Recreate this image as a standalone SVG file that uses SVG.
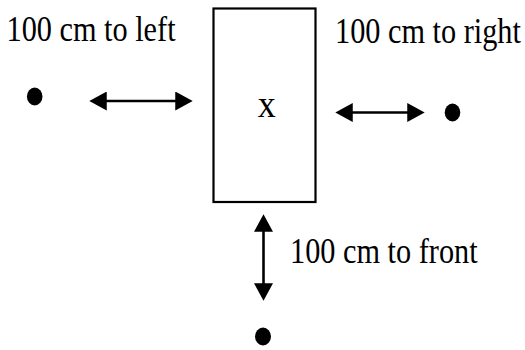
<svg xmlns="http://www.w3.org/2000/svg" width="525" height="350" viewBox="0 0 525 350">
  <style>
    .lbl { font-family: "Liberation Serif", "Times New Roman", serif; font-size: 30.3px; fill: #000; }
    .box { fill: #fff; stroke: #000; stroke-width: 2.2; }
    .dot { fill: #000; }
    .conn { stroke: #000; stroke-width: 2.6; fill: none; marker-start: url(#ah); marker-end: url(#ah); }
  </style>
  <defs>
    <marker id="ah" markerUnits="userSpaceOnUse" markerWidth="18" markerHeight="19" refX="13" refY="9" orient="auto-start-reverse" viewBox="0 0 17 18">
      <path d="M0,0 L16.5,9 L0,18 z" fill="#000"/>
    </marker>
  </defs>
  <rect width="525" height="350" fill="#fff"/>

  <g id="box-x">
    <rect class="box" x="213.5" y="8.5" width="102" height="193.5"/>
    <text class="lbl" transform="translate(266.7,117.3) scale(1,1.08)" text-anchor="middle" style="font-size:36px">x</text>
  </g>

  <g id="point-left">
    <ellipse class="dot" cx="34.7" cy="96.5" rx="7.8" ry="9"/>
  </g>
  <g id="point-right">
    <ellipse class="dot" cx="452.5" cy="112.5" rx="7.8" ry="9"/>
  </g>
  <g id="point-front">
    <ellipse class="dot" cx="263" cy="336.5" rx="8" ry="9"/>
  </g>

  <g id="label-left">
    <text class="lbl" transform="translate(6.5,40.5) scale(1,1.18)">100 cm to left</text>
  </g>
  <g id="label-right">
    <text class="lbl" transform="translate(335,42.5) scale(1,1.18)">100 cm to right</text>
  </g>
  <g id="label-front">
    <text class="lbl" transform="translate(290,263.3) scale(1,1.18)">100 cm to front</text>
  </g>

  <g id="connectors">
    <line class="conn" x1="93" y1="101" x2="189" y2="101"/>
    <line class="conn" x1="339" y1="112.5" x2="421" y2="112.5"/>
    <line class="conn" x1="263.5" y1="218" x2="263.5" y2="297"/>
  </g>
</svg>
